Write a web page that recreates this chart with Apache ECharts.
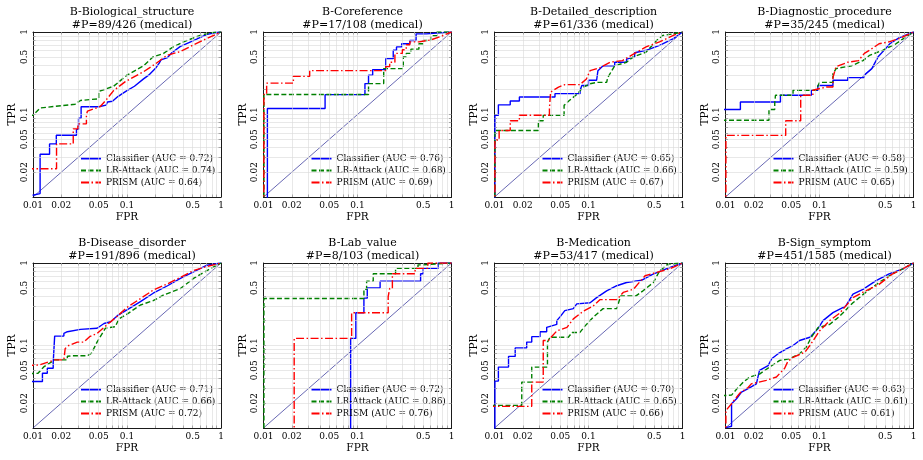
<!DOCTYPE html>
<html><head><meta charset="utf-8">
<script src="https://cdn.jsdelivr.net/npm/echarts@6/dist/echarts.min.js"></script>
<style>html,body{margin:0;padding:0;background:#fff}#c{width:923px;height:460px}</style>
</head><body><div id="c"></div>
<script>
// ---------- DATA ----------
const panelTitles = ['B-Biological_structure','B-Coreference','B-Detailed_description','B-Diagnostic_procedure',
  'B-Disease_disorder','B-Lab_value','B-Medication','B-Sign_symptom'];
const panelCounts = ['#P=89/426 (medical)','#P=17/108 (medical)','#P=61/336 (medical)','#P=35/245 (medical)',
  '#P=191/896 (medical)','#P=8/103 (medical)','#P=53/417 (medical)','#P=451/1585 (medical)'];
const aucClassifier = [0.72,0.76,0.65,0.58,0.71,0.72,0.70,0.63];
const aucLRAttack   = [0.74,0.68,0.66,0.59,0.66,0.86,0.65,0.61];
const aucPrism      = [0.64,0.69,0.67,0.65,0.72,0.76,0.66,0.61];
const xTickLabels = [0.01,0.02,0.05,0.1,0.5,1];
const yTickLabels = [0.02,0.05,0.1,0.5,1];
const tickMarks = [0.01,0.02,0.03,0.04,0.05,0.06,0.07,0.08,0.09,0.1,0.2,0.3,0.4,0.5,0.6,0.7,0.8,0.9,1];
const gridMarks = [0.02,0.03,0.04,0.05,0.06,0.07,0.08,0.09,0.1,0.2,0.3,0.4,0.5,0.6,0.7,0.8,0.9];
const diagonal = [[0.01,0.01],[1,1]];

// panel 1: Biological_structure
const bioClf = [[0.0099,0.0105],[0.0119,0.011],[0.0119,0.033],[0.015,0.033],[0.015,0.044],[0.0177,0.044],[0.0177,0.056],[0.029,0.056],[0.029,0.066],[0.0305,0.066],[0.0305,0.09],[0.0325,0.09],[0.0325,0.124],[0.05,0.124],[0.05,0.13],[0.06,0.13],[0.062,0.142],[0.07,0.145],[0.08,0.165],[0.09,0.18],[0.1,0.195],[0.12,0.22],[0.15,0.27],[0.17,0.3],[0.2,0.36],[0.22,0.42],[0.23,0.46],[0.27,0.49],[0.3,0.56],[0.37,0.67],[0.45,0.74],[0.55,0.82],[0.7,0.93],[0.85,0.98],[1,1]];
const bioLR = [[0.001,0.098],[0.01,0.098],[0.0119,0.12],[0.0167,0.125],[0.028,0.133],[0.032,0.148],[0.05,0.155],[0.05,0.19],[0.072,0.22],[0.1,0.3],[0.15,0.39],[0.19,0.5],[0.245,0.55],[0.31,0.66],[0.4,0.76],[0.6,0.91],[0.83,0.99],[1,1]];
const bioPrism = [[0.001,0.022],[0.0178,0.022],[0.0178,0.044],[0.0268,0.044],[0.0268,0.067],[0.03,0.067],[0.03,0.077],[0.037,0.077],[0.037,0.1],[0.038,0.11],[0.052,0.125],[0.06,0.15],[0.072,0.195],[0.096,0.25],[0.15,0.33],[0.2,0.41],[0.265,0.52],[0.37,0.58],[0.5,0.69],[0.7,0.83],[1,1]];
// panel 2: Coreference
const corClf = [[0.011,0.001],[0.011,0.118],[0.0452,0.118],[0.0452,0.174],[0.12,0.174],[0.12,0.237],[0.131,0.237],[0.131,0.3],[0.145,0.3],[0.145,0.35],[0.2,0.35],[0.2,0.475],[0.24,0.475],[0.24,0.6],[0.26,0.6],[0.26,0.66],[0.295,0.66],[0.295,0.72],[0.36,0.72],[0.36,0.79],[0.42,0.79],[0.42,0.95],[0.54,0.95],[0.54,1],[1,1]];
const corLR = [[0.0101,0.001],[0.0101,0.175],[0.131,0.175],[0.131,0.237],[0.19,0.237],[0.19,0.36],[0.307,0.36],[0.307,0.5],[0.33,0.5],[0.33,0.55],[0.37,0.55],[0.37,0.62],[0.45,0.62],[0.45,0.72],[0.5,0.72],[0.5,0.79],[0.6,0.79],[0.6,0.9],[0.7,0.9],[0.7,1],[1,1]];
const corPrism = [[0.0101,0.001],[0.0101,0.175],[0.0108,0.175],[0.0108,0.24],[0.0208,0.24],[0.0208,0.29],[0.031,0.29],[0.031,0.34],[0.2,0.34],[0.2,0.38],[0.22,0.38],[0.22,0.43],[0.25,0.43],[0.25,0.55],[0.3,0.55],[0.3,0.61],[0.33,0.61],[0.33,0.7],[0.36,0.7],[0.36,0.76],[0.45,0.76],[0.6,0.8],[0.8,0.9],[1,1]];
// panel 3: Detailed_description
const detClf = [[0.0101,0.001],[0.0101,0.0977],[0.011,0.0977],[0.011,0.131],[0.0147,0.131],[0.0147,0.146],[0.0184,0.146],[0.0184,0.163],[0.044,0.163],[0.044,0.179],[0.0813,0.179],[0.0813,0.197],[0.085,0.197],[0.085,0.225],[0.1,0.225],[0.1,0.26],[0.122,0.26],[0.126,0.34],[0.143,0.39],[0.19,0.39],[0.19,0.43],[0.254,0.43],[0.254,0.47],[0.31,0.5],[0.31,0.56],[0.41,0.6],[0.57,0.69],[0.8,0.83],[1,1]];
const detLR = [[0.0101,0.001],[0.0101,0.064],[0.0293,0.064],[0.0293,0.084],[0.033,0.084],[0.033,0.098],[0.055,0.098],[0.055,0.129],[0.063,0.149],[0.075,0.175],[0.088,0.215],[0.104,0.236],[0.122,0.245],[0.156,0.245],[0.16,0.28],[0.19,0.39],[0.254,0.43],[0.3,0.5],[0.41,0.57],[0.53,0.79],[0.62,0.91],[0.8,0.95],[1,1]];
const detPrism = [[0.0101,0.001],[0.0101,0.049],[0.0112,0.049],[0.0112,0.064],[0.0147,0.064],[0.0147,0.084],[0.0184,0.084],[0.0184,0.098],[0.0384,0.098],[0.0384,0.118],[0.0395,0.118],[0.0395,0.187],[0.048,0.215],[0.056,0.23],[0.081,0.23],[0.095,0.27],[0.104,0.34],[0.133,0.37],[0.169,0.43],[0.23,0.45],[0.31,0.55],[0.41,0.66],[0.57,0.76],[0.8,0.91],[1,1]];
// panel 4: Diagnostic_procedure
const diaClf = [[0.001,0.115],[0.0144,0.115],[0.0144,0.142],[0.0384,0.142],[0.0384,0.171],[0.0818,0.171],[0.0818,0.197],[0.096,0.197],[0.096,0.225],[0.139,0.225],[0.139,0.26],[0.2,0.26],[0.2,0.28],[0.3,0.28],[0.3,0.3],[0.36,0.36],[0.42,0.5],[0.5,0.62],[0.56,0.72],[0.7,0.85],[1,1]];
const diaLR = [[0.001,0.085],[0.029,0.085],[0.029,0.115],[0.0334,0.115],[0.0334,0.138],[0.034,0.171],[0.0523,0.171],[0.0523,0.197],[0.092,0.197],[0.1,0.245],[0.139,0.245],[0.139,0.31],[0.15,0.36],[0.22,0.39],[0.29,0.45],[0.34,0.52],[0.47,0.6],[0.65,0.72],[0.83,0.87],[1,1]];
const diaPrism = [[0.0101,0.001],[0.0101,0.0558],[0.0437,0.0558],[0.0437,0.084],[0.0631,0.084],[0.0631,0.171],[0.085,0.171],[0.085,0.197],[0.118,0.215],[0.139,0.215],[0.139,0.28],[0.15,0.38],[0.2,0.43],[0.26,0.45],[0.3,0.55],[0.34,0.6],[0.43,0.72],[0.55,0.76],[0.7,0.83],[1,1]];
// panel 5: Disease_disorder
const disClf = [[0.001,0.0366],[0.0126,0.0366],[0.0126,0.046],[0.0142,0.046],[0.0142,0.053],[0.0164,0.053],[0.0164,0.062],[0.017,0.062],[0.017,0.13],[0.0213,0.13],[0.0213,0.14],[0.0232,0.147],[0.032,0.157],[0.048,0.162],[0.057,0.185],[0.067,0.194],[0.079,0.23],[0.1,0.27],[0.139,0.34],[0.19,0.43],[0.27,0.53],[0.37,0.65],[0.51,0.78],[0.71,0.94],[1,1]];
const disLR = [[0.001,0.042],[0.0113,0.046],[0.013,0.055],[0.017,0.067],[0.0232,0.067],[0.0232,0.074],[0.026,0.075],[0.0378,0.075],[0.042,0.081],[0.048,0.11],[0.052,0.128],[0.059,0.162],[0.075,0.169],[0.082,0.21],[0.1,0.24],[0.139,0.31],[0.19,0.35],[0.246,0.41],[0.37,0.49],[0.51,0.65],[0.71,0.81],[1,1]];
const disPrism = [[0.001,0.0516],[0.0116,0.058],[0.017,0.067],[0.0213,0.067],[0.022,0.092],[0.024,0.1],[0.0296,0.11],[0.0348,0.11],[0.04,0.128],[0.048,0.14],[0.062,0.18],[0.079,0.227],[0.1,0.29],[0.139,0.37],[0.19,0.47],[0.27,0.56],[0.37,0.67],[0.51,0.81],[0.71,0.91],[1,1]];
// panel 6: Lab_value
const labClf = [[0.0845,0.001],[0.0845,0.122],[0.096,0.122],[0.096,0.249],[0.117,0.249],[0.117,0.375],[0.127,0.375],[0.127,0.5],[0.174,0.5],[0.174,0.6],[0.469,0.6],[0.469,0.74],[0.5,0.74],[0.5,0.86],[0.72,0.86],[0.72,1],[1,1]];
const labLR = [[0.0101,0.001],[0.0101,0.371],[0.117,0.371],[0.117,0.48],[0.125,0.48],[0.125,0.6],[0.147,0.6],[0.147,0.74],[0.254,0.74],[0.254,0.86],[0.44,0.86],[0.44,0.95],[0.5,0.95],[0.5,1],[1,1]];
const labPrism = [[0.0212,0.001],[0.0212,0.122],[0.0866,0.122],[0.0866,0.249],[0.212,0.249],[0.212,0.39],[0.22,0.39],[0.22,0.49],[0.235,0.49],[0.235,0.74],[0.41,0.74],[0.41,0.86],[0.56,0.86],[0.56,1],[1,1]];
// panel 7: Medication
const medClf = [[0.0101,0.001],[0.0101,0.037],[0.011,0.037],[0.011,0.0547],[0.0141,0.0547],[0.0141,0.0738],[0.0166,0.0738],[0.0166,0.0935],[0.022,0.0935],[0.022,0.11],[0.0249,0.11],[0.0249,0.128],[0.0305,0.128],[0.0305,0.147],[0.0359,0.147],[0.0359,0.166],[0.046,0.18],[0.046,0.2],[0.05,0.224],[0.056,0.265],[0.069,0.28],[0.075,0.32],[0.104,0.33],[0.122,0.38],[0.156,0.46],[0.2,0.53],[0.254,0.58],[0.31,0.6],[0.37,0.62],[0.48,0.73],[0.67,0.85],[1,1]];
const medLR = [[0.001,0.0188],[0.0195,0.0188],[0.0195,0.036],[0.0249,0.036],[0.0249,0.0547],[0.0366,0.0547],[0.0366,0.11],[0.039,0.126],[0.061,0.126],[0.067,0.144],[0.081,0.144],[0.092,0.173],[0.112,0.22],[0.143,0.28],[0.2,0.28],[0.22,0.4],[0.32,0.4],[0.38,0.46],[0.49,0.58],[0.57,0.8],[0.7,0.97],[1,1]];
const medPrism = [[0.001,0.0183],[0.0249,0.0183],[0.0249,0.036],[0.033,0.036],[0.033,0.115],[0.0373,0.115],[0.046,0.15],[0.059,0.166],[0.069,0.21],[0.088,0.26],[0.112,0.3],[0.133,0.36],[0.2,0.36],[0.234,0.44],[0.3,0.48],[0.4,0.7],[0.53,0.77],[0.73,0.85],[1,1]];
// panel 8: Sign_symptom
const sigClf = [[0.0101,0.0101],[0.0116,0.0105],[0.0116,0.0197],[0.0131,0.0226],[0.0148,0.0273],[0.0174,0.03],[0.0213,0.0343],[0.023,0.05],[0.0284,0.057],[0.031,0.069],[0.036,0.079],[0.0444,0.091],[0.0523,0.1],[0.0614,0.115],[0.079,0.126],[0.096,0.159],[0.109,0.2],[0.139,0.25],[0.19,0.3],[0.227,0.42],[0.29,0.48],[0.4,0.61],[0.55,0.74],[0.77,0.85],[1,1]];
const sigLR = [[0.001,0.0216],[0.0116,0.025],[0.0136,0.031],[0.0155,0.036],[0.0181,0.0415],[0.023,0.045],[0.0296,0.055],[0.0378,0.066],[0.048,0.069],[0.061,0.079],[0.072,0.095],[0.082,0.126],[0.096,0.164],[0.128,0.18],[0.163,0.225],[0.227,0.33],[0.31,0.44],[0.43,0.58],[0.6,0.74],[0.77,0.85],[1,1]];
const sigPrism = [[0.0101,0.001],[0.0101,0.0163],[0.0116,0.0197],[0.0142,0.0265],[0.0174,0.031],[0.0188,0.0343],[0.0272,0.0378],[0.0348,0.0415],[0.0426,0.053],[0.046,0.064],[0.0523,0.072],[0.07,0.083],[0.079,0.1],[0.1,0.15],[0.128,0.2],[0.163,0.245],[0.227,0.38],[0.31,0.46],[0.43,0.55],[0.6,0.74],[0.77,0.85],[1,1]];

const classifierCurves = [bioClf, corClf, detClf, diaClf, disClf, labClf, medClf, sigClf];
const lrCurves = [bioLR, corLR, detLR, diaLR, disLR, labLR, medLR, sigLR];
const prismCurves = [bioPrism, corPrism, detPrism, diaPrism, disPrism, labPrism, medPrism, sigPrism];

// ---------- LAYOUT / STYLE ----------
const FONT = '"DejaVu Serif", serif';
const colLeft = [33, 263.5, 494.5, 725.5];
const rowTop = [32, 263];
const W = 188, H = 165;
const FRAME = '#1a1a1a';
const fmt = v => String(+(+v).toPrecision(3));

const grid = [], xAxis = [], yAxis = [], series = [], legend = [], title = [];
for (let i = 0; i < 8; i++) {
  const L = colLeft[i % 4], T = rowTop[Math.floor(i / 4)];
  grid.push({left: L, top: T, width: W, height: H, outerBoundsMode: 'none', containLabel: false});
  title.push({text: panelTitles[i] + '\n' + panelCounts[i], left: L + W / 2, top: T - 31, textAlign: 'center',
    textStyle: {fontFamily: FONT, fontSize: 11, fontWeight: 'normal', color: '#000', lineHeight: 12.5}});
  const common = {type: 'log', logBase: 10, gridIndex: i, min: 0.01, max: 1,
    axisLine: {show: true, onZero: false, lineStyle: {color: FRAME, width: 1}},
    axisTick: {show: true, inside: true, length: 2.5, customValues: tickMarks, lineStyle: {color: FRAME, width: 0.7}},
    splitLine: {show: false}, minorTick: {show: false}, minorSplitLine: {show: false}};
  xAxis.push(Object.assign({}, common, {position: 'bottom', name: 'FPR', nameLocation: 'middle', nameGap: 15,
    nameTextStyle: {fontFamily: FONT, fontSize: 10.5, color: '#000'},
    axisLabel: {show: true, customValues: xTickLabels, formatter: fmt, fontFamily: FONT, fontSize: 9, color: '#000', margin: 4, hideOverlap: false, showMinLabel: true, showMaxLabel: true}}));
  xAxis.push(Object.assign({}, common, {position: 'top', axisLabel: {show: false}}));
  yAxis.push(Object.assign({}, common, {position: 'left', name: 'TPR', nameLocation: 'middle', nameGap: 15, nameRotate: 90,
    nameTextStyle: {fontFamily: FONT, fontSize: 10.5, color: '#000'},
    axisLabel: {show: true, customValues: yTickLabels, formatter: fmt, rotate: 90, fontFamily: FONT, fontSize: 9, color: '#000', margin: 4, hideOverlap: false, showMinLabel: true, showMaxLabel: true}}));
  yAxis.push(Object.assign({}, common, {position: 'right', axisLabel: {show: false}}));

  const ax = {xAxisIndex: 2 * i, yAxisIndex: 2 * i};
  // grid lines
  series.push(Object.assign({type: 'line', data: [diagonal[0]], symbol: 'none', silent: true, z: 1,
    lineStyle: {opacity: 0}, animation: false,
    markLine: {silent: true, symbol: ['none', 'none'], label: {show: false}, animation: false,
      lineStyle: {color: '#d9d9d9', width: 0.6, type: 'solid'},
      data: gridMarks.map(v => ({xAxis: v})).concat(gridMarks.map(v => ({yAxis: v})))}}, ax));
  series.push(Object.assign({type: 'line', data: diagonal, symbol: 'none', silent: true, z: 2,
    lineStyle: {color: '#000080', width: 0.6}, animation: false}, ax));
  const names = ['Classifier (AUC = ' + aucClassifier[i].toFixed(2) + ')',
                 'LR-Attack (AUC = ' + aucLRAttack[i].toFixed(2) + ')',
                 'PRISM (AUC = ' + aucPrism[i].toFixed(2) + ')'];
  series.push(Object.assign({type: 'line', name: names[0], data: classifierCurves[i], symbol: 'none', z: 3, animation: false,
    itemStyle: {color: '#0000ff'}, lineStyle: {color: '#0000ff', width: 1.4}}, ax));
  series.push(Object.assign({type: 'line', name: names[1], data: lrCurves[i], symbol: 'none', z: 4, animation: false,
    itemStyle: {color: '#008000'}, lineStyle: {color: '#008000', width: 1.4, type: [5, 2.5]}}, ax));
  series.push(Object.assign({type: 'line', name: names[2], data: prismCurves[i], symbol: 'none', z: 5, animation: false,
    itemStyle: {color: '#ff0000'}, lineStyle: {color: '#ff0000', width: 1.4, type: [8, 2.5, 1.5, 2.5]}}, ax));
  legend.push({data: names, left: L + 47, top: T + 122, orient: 'vertical', itemWidth: 20, itemHeight: 8, itemGap: 3,
    padding: 0, selectedMode: false, itemStyle: {opacity: 0, borderWidth: 0},
    textStyle: {fontFamily: FONT, fontSize: 9, color: '#000'}});
}

const chart = echarts.init(document.getElementById('c'), null, {renderer: 'canvas'});
chart.setOption({animation: false, backgroundColor: '#fff', title, grid, xAxis, yAxis, series, legend});
</script></body></html>
